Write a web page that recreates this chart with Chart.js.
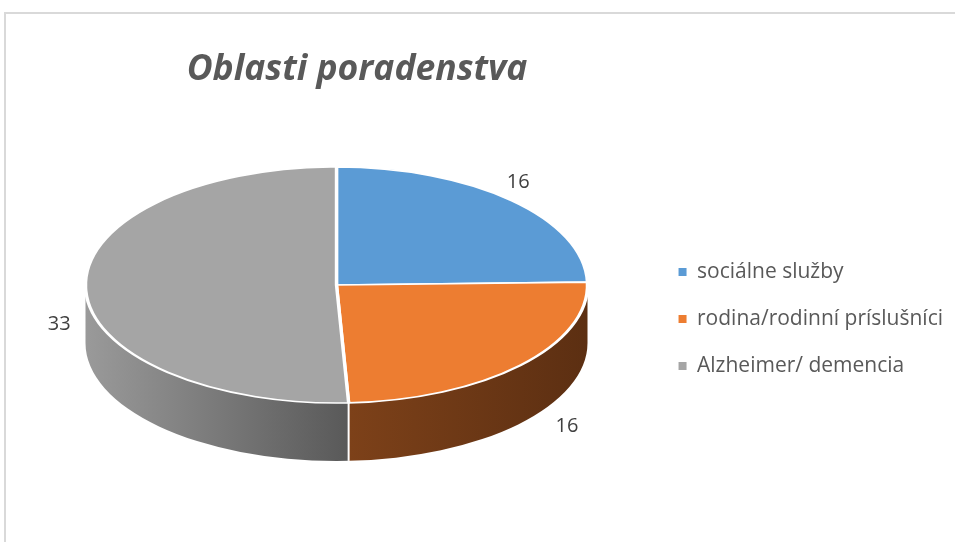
<!DOCTYPE html>
<html>
<head>
<meta charset="utf-8">
<script src="https://cdn.jsdelivr.net/npm/chart.js@4.4.0/dist/chart.umd.min.js"></script>
<style>
  html, body { margin: 0; padding: 0; background: #fff; }
  #wrap { position: relative; width: 955px; height: 542px; overflow: hidden; }
  #frame { position: absolute; left: 4px; top: 12px; width: 1000px; height: 1000px; border: 2px solid #d9d9d9; }
  canvas { position: absolute; left: 0; top: 0; }
</style>
</head>
<body>
<div id="wrap"><div id="frame"></div><canvas id="pieChart" width="955" height="542"></canvas></div>
<script>
const labels = ["sociálne služby", "rodina/rodinní príslušníci", "Alzheimer/ demencia"];
const values = [16, 16, 33];
const topColors = ["#5B9BD5", "#ED7D31", "#A5A5A5"];
const sideColors = [["#3d6d99", "#2f5677"], ["#7d4119", "#5c2f12"], ["#9a9a9a", "#595959"]];
const chartTitle = "Oblasti poradenstva";

// where the tilted pie sits on the page
const ell = { cx: 336.5, cy: 285, rx: 251, ry: 118, depth: 58 };

// squash the flat pie into an ellipse and give it a side wall
const pie3d = {
   id: "pie3d",
   beforeDatasetsDraw(chart) {
      const ctx = chart.ctx;
      const arcs = chart.getDatasetMeta(0).data;

      arcs.forEach((arc, i) => {
         const s = Math.max(arc.startAngle, 0);
         const e = Math.min(arc.endAngle, Math.PI);
         if (e <= s) return;
         const xa = ell.cx + ell.rx * Math.cos(e);
         const xb = ell.cx + ell.rx * Math.cos(s);
         const grad = ctx.createLinearGradient(xa, 0, xb, 0);
         grad.addColorStop(0, sideColors[i][0]);
         grad.addColorStop(1, sideColors[i][1]);
         ctx.save();
         ctx.beginPath();
         ctx.ellipse(ell.cx, ell.cy, ell.rx, ell.ry, 0, s, e);
         ctx.ellipse(ell.cx, ell.cy + ell.depth, ell.rx, ell.ry, 0, e, s, true);
         ctx.closePath();
         ctx.fillStyle = grad;
         ctx.fill();
         ctx.restore();
      });

      // white seams on the side wall
      arcs.forEach(arc => {
         const a = arc.endAngle;
         if (a > 0 && a < Math.PI) {
            const x = ell.cx + ell.rx * Math.cos(a);
            const y = ell.cy + ell.ry * Math.sin(a);
            ctx.save();
            ctx.strokeStyle = "#ffffff";
            ctx.lineWidth = 2;
            ctx.beginPath();
            ctx.moveTo(x, y);
            ctx.lineTo(x, y + ell.depth);
            ctx.stroke();
            ctx.restore();
         }
      });

      const a0 = arcs[0];
      ctx.save();
      ctx.translate(ell.cx, ell.cy);
      ctx.scale(ell.rx / a0.outerRadius, ell.ry / a0.outerRadius);
      ctx.translate(-a0.x, -a0.y);
   },
   afterDatasetsDraw(chart) {
      chart.ctx.restore();
   },
   afterDraw(chart) {
      const ctx = chart.ctx;
      const arcs = chart.getDatasetMeta(0).data;

      // value labels, pushed out from the rim
      ctx.save();
      ctx.font = "20px 'Open Sans'";
      ctx.fillStyle = "#404040";
      ctx.textAlign = "center";
      ctx.textBaseline = "middle";
      arcs.forEach((arc, i) => {
         const m = (arc.startAngle + arc.endAngle) / 2;
         const sn = Math.sin(m), cs = Math.cos(m);
         const off = 25 + 22 * sn + 35 * Math.max(0, sn);
         const dep = Math.min(0.75, Math.max(0, 0.6 + 0.85 * sn)) * ell.depth;
         const x = ell.cx + (ell.rx + off) * cs;
         const y = ell.cy + (ell.ry + 25) * sn + dep;
         ctx.fillText(String(values[i]), x, y);
      });
      ctx.restore();

      // title
      ctx.save();
      ctx.font = "italic bold 35.5px 'Open Sans'";
      ctx.fillStyle = "#595959";
      ctx.textAlign = "center";
      ctx.textBaseline = "middle";
      ctx.fillText(chartTitle, 357, 70);
      ctx.restore();
   }
};

const pieCtx = document.getElementById("pieChart").getContext("2d");
const pieChart = new Chart(pieCtx, {
   type: "pie",
   data: {
      labels: labels,
      datasets: [
         {
            data: values,
            backgroundColor: topColors,
            borderColor: "#ffffff",
            borderWidth: 3,
            clip: false
         }
      ]
   },
   options: {
      responsive: false,
      animation: false,
      events: [],
      layout: {
         padding: { top: 96, right: 2, left: 0, bottom: 0 }
      },
      plugins: {
         title: { display: false },
         tooltip: { enabled: false },
         legend: {
            position: "right",
            align: "center",
            labels: {
               boxWidth: 8,
               boxHeight: 8,
               padding: 26,
               color: "#595959",
               font: { family: "'Open Sans'", size: 21 },
               generateLabels(chart) {
                  const items = Chart.DoughnutController.overrides.plugins.legend.labels.generateLabels(chart);
                  items.forEach(it => { it.lineWidth = 0; it.strokeStyle = it.fillStyle; });
                  return items;
               }
            }
         }
      }
   },
   plugins: [pie3d]
});
</script>
</body>
</html>
